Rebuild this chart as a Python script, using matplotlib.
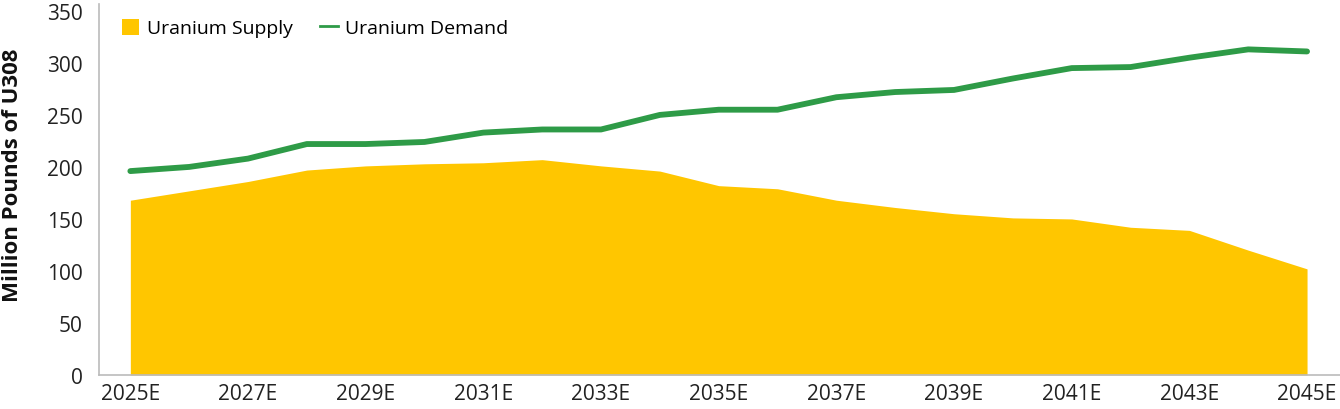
import matplotlib.pyplot as plt
from matplotlib.lines import Line2D
from matplotlib.patches import Patch

# donnees
years = list(range(2025, 2046))
supply = [168, 177, 186, 197, 201, 203, 204, 207, 201, 196,
          182, 179, 168, 161, 155, 151, 150, 142, 139, 120, 102]
demand = [196, 200, 208, 222, 222, 224, 233, 236, 236, 250,
          255, 255, 267, 272, 274, 285, 295, 296, 305, 313, 311]
tick_years = list(range(2025, 2046, 2))
tick_labels = [str(y) + "E" for y in tick_years]

plt.rcParams['font.family'] = ['Open Sans', 'DejaVu Sans']

fig = plt.figure(figsize=(13.4, 4.1), dpi=100)
ax = fig.add_axes([0.074, 0.083, 0.926, 0.888])

ax.fill_between(years, 0, supply, color='#FFC600', linewidth=0)
ax.plot(years, demand, color='#2E9B47', linewidth=4.2, solid_capstyle='round')

ax.set_xlim(2024.47, 2045.56)
ax.set_ylim(0, 350)
ax.set_yticks(range(0, 351, 50))
ax.set_xticks(tick_years)
ax.set_xticklabels(tick_labels)
ax.tick_params(length=0, labelsize=15, colors='#222222', pad=6)
ax.tick_params(axis='y', pad=12)

for s in ['top', 'right']:
    ax.spines[s].set_visible(False)
for s in ['left', 'bottom']:
    ax.spines[s].set_color('#BBBBBB')
    ax.spines[s].set_linewidth(1.2)
ax.spines['left'].set_bounds(0, 357)

ax.set_ylabel('Million Pounds of U308', fontsize=16, fontweight='bold', color='#111111')
ax.yaxis.set_label_coords(-0.061, 0.55)

handles = [Patch(facecolor='#FFC600', edgecolor='none'),
           Line2D([0], [0], color='#2E9B47', linewidth=2)]
ax.legend(handles, ['Uranium Supply', 'Uranium Demand'], loc='upper left', frameon=False,
          ncol=2, fontsize=14, handlelength=0.9, handleheight=0.9, handletextpad=0.4,
          columnspacing=1.4, borderaxespad=0.0, bbox_to_anchor=(0.012, 1.0))

fig.savefig('out.png', dpi=100)
